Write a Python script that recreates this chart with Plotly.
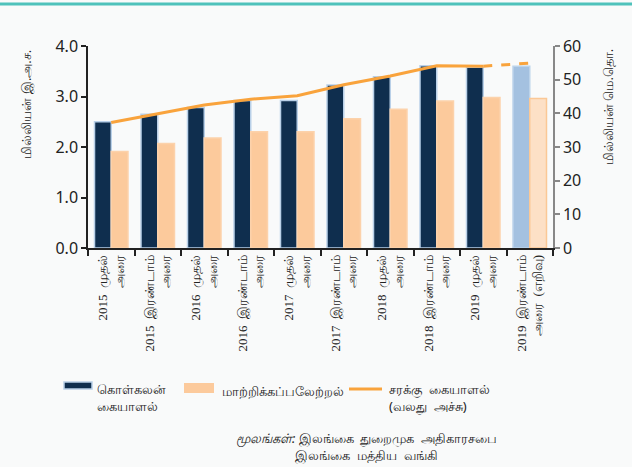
import plotly.graph_objects as go

categories = [
    "2015  முதல்<br>அரை",
    "2015  இரண்டாம்<br>அரை",
    "2016  முதல்<br>அரை",
    "2016  இரண்டாம்<br>அரை",
    "2017  முதல்<br>அரை",
    "2017  இரண்டாம்<br>அரை",
    "2018  முதல்<br>அரை",
    "2018  இரண்டாம்<br>அரை",
    "2019  முதல்<br>அரை",
    "2019  இரண்டாம்<br>அரை  (எறிவு)",
]
container = [2.50, 2.65, 2.78, 2.92, 2.92, 3.23, 3.39, 3.61, 3.58, 3.60]
transshipment = [1.91, 2.07, 2.18, 2.30, 2.30, 2.56, 2.75, 2.91, 2.98, 2.96]
cargo = [37.3, 40.0, 42.5, 44.2, 45.2, 48.5, 51.1, 54.1, 54.0, 54.9]

L, R, T, B = 88, 79, 46, 219
W, H = 632, 467
PW, PH = W - L - R, H - T - B


def px(x):
    return (x - L) / PW


def py(y):
    return (H - B - y) / PH


n = len(categories)
dark_colors = ["#0f2e4e"] * (n - 1) + ["#a4c1e0"]
dark_lines = ["#b9d0e8"] * (n - 1) + ["#bcd3ea"]
peach_colors = ["#fcca9c"] * (n - 1) + ["#fde0c6"]
peach_lines = ["#fcd2ab"] * (n - 1) + ["#fbc896"]

fig = go.Figure()
fig.add_trace(go.Bar(x=categories, y=container, name="container",
                     marker=dict(color=dark_colors, line=dict(color=dark_lines, width=1.5)),
                     showlegend=False))
fig.add_trace(go.Bar(x=categories, y=transshipment, name="transshipment",
                     marker=dict(color=peach_colors, line=dict(color=peach_lines, width=1.5)),
                     showlegend=False))
fig.add_trace(go.Scatter(x=categories[:9], y=cargo[:9], mode="lines", yaxis="y2",
                         line=dict(color="#f9a33c", width=3), showlegend=False))
fig.add_trace(go.Scatter(x=categories[8:], y=cargo[8:], mode="lines", yaxis="y2",
                         line=dict(color="#f9a33c", width=3, dash="dash"), showlegend=False))

fig.update_layout(
    width=W, height=H,
    margin=dict(l=L, r=R, t=T, b=B, pad=0),
    paper_bgcolor="#f9fafa", plot_bgcolor="#f9fafa",
    barmode="group", bargap=0.28, bargroupgap=0,
    font=dict(family="Noto Sans, DejaVu Sans", color="#222222"),
    xaxis=dict(
        type="category", tickangle=-90, tickson="boundaries",
        ticks="outside", ticklen=6, tickcolor="#222", tickwidth=1.5,
        showline=True, linecolor="#222", linewidth=1.5,
        showgrid=False, zeroline=False,
        tickfont=dict(family="Liberation Serif, Noto Sans", size=13, color="#222"),
    ),
    yaxis=dict(
        range=[0, 4], dtick=1, tickformat=".1f",
        ticks="outside", ticklen=5, tickcolor="#222", tickwidth=1.5,
        showline=True, linecolor="#222", linewidth=1.5,
        showgrid=False, zeroline=False,
        tickfont=dict(size=16, color="#222"),
    ),
    yaxis2=dict(
        range=[0, 60], dtick=10, overlaying="y", side="right",
        ticks="outside", ticklen=5, tickcolor="#888", tickwidth=1.5,
        showline=True, linecolor="#888", linewidth=1.5,
        showgrid=False, zeroline=False,
        tickfont=dict(size=16, color="#222"),
    ),
)

shapes = [
    dict(type="line", xref="paper", yref="paper", x0=0 - L / PW, x1=1 + R / PW,
         y0=py(4), y1=py(4), line=dict(color="#4fc2bb", width=3)),
    # legend swatches
    dict(type="rect", xref="paper", yref="paper", x0=px(64), x1=px(92), y0=py(382), y1=py(389),
         fillcolor="#0f2e4e", line=dict(color="#b9d0e8", width=1.5)),
    dict(type="rect", xref="paper", yref="paper", x0=px(184), x1=px(214), y0=py(383), y1=py(393),
         fillcolor="#fcca9c", line=dict(width=0)),
    dict(type="line", xref="paper", yref="paper", x0=px(349), x1=px(382), y0=py(389), y1=py(389),
         line=dict(color="#f9a33c", width=3)),
]

ann = [
    dict(text="மில்லியன் இ.அ.ச.", x=px(25), y=py(47), textangle=-90,
         xanchor="center", yanchor="top", font=dict(size=13)),
    dict(text="மில்லியன் மெ.தொ.", x=px(608), y=py(47), textangle=-90,
         xanchor="center", yanchor="top", font=dict(size=13)),
    dict(text="கொள்கலன்<br>கையாளல்", x=px(95), y=py(378), xanchor="left", yanchor="top",
         align="left", font=dict(size=13)),
    dict(text="மாற்றிக்கப்பலேற்றல்", x=px(220), y=py(380), xanchor="left", yanchor="top",
         align="left", font=dict(size=13)),
    dict(text="சரக்கு  கையாளல்<br>(வலது  அச்சு)", x=px(387), y=py(378), xanchor="left", yanchor="top",
         align="left", font=dict(size=13)),
    dict(text="<i>மூலங்கள்:</i> இலங்கை  துறைமுக  அதிகாரசபை<br>இலங்கை  மத்திய  வங்கி",
         x=px(366), y=py(427), xanchor="center", yanchor="top", align="center",
         font=dict(size=13)),
]
for a in ann:
    a.update(xref="paper", yref="paper", showarrow=False)

fig.update_layout(shapes=shapes, annotations=ann)
fig.write_html("out.html", config={"displayModeBar": False},
               post_script="document.body.style.margin='0';document.body.style.overflow='hidden';")
